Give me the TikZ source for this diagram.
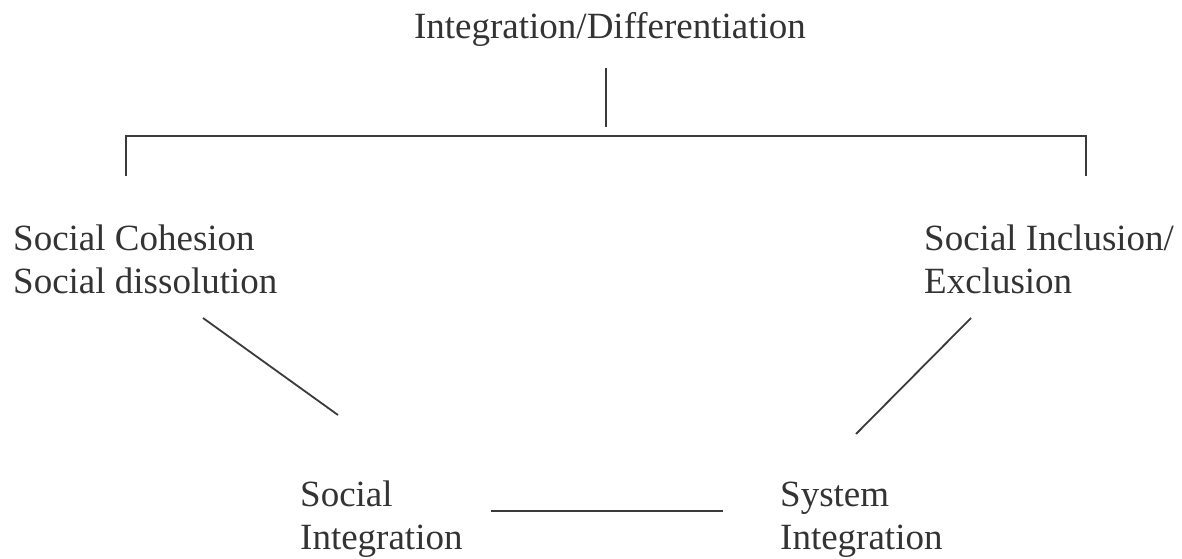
\documentclass[tikz,border=0pt]{standalone}
\usepackage{fontspec}
\setmainfont{Liberation Serif}
\definecolor{ink}{HTML}{333333}
\definecolor{rule}{HTML}{3A3A3A}
\begin{document}
\begin{tikzpicture}[x=1pt,y=-1pt,
  lbl/.style={anchor=base west,inner sep=0pt,align=left,text=ink,
    font=\fontsize{37}{42.5}\selectfont},
  conn/.style={draw=rule,line width=1.8pt}]
\useasboundingbox (0,0) rectangle (1182,558);
\node[lbl,anchor=base] (top) at (610,38) {Integration/Differentiation};
% base anchor of a two-line node = baseline of its last line
\node[lbl] (coh) at (13,293) {Social Cohesion\\Social dissolution};
\node[lbl] (inc) at (924,293) {Social Inclusion/\\Exclusion};
\node[lbl] (soc) at (300,549) {Social\\Integration};
\node[lbl] (sys) at (780,549) {System\\Integration};
% connector end points
\coordinate (t1) at (606,68);
\coordinate (t2) at (606,127);
\coordinate (bl) at (126,176);
\coordinate (br) at (1086,176);
\coordinate (l1) at (203,318);
\coordinate (l2) at (338,415);
\coordinate (r1) at (971,318);
\coordinate (r2) at (856,434);
\coordinate (h1) at (491,511);
\coordinate (h2) at (723,511);
\draw[conn] (t1) -- (t2);
\draw[conn] (bl) |- (1086,136) -- (br);
\draw[conn] (l1) -- (l2);
\draw[conn] (r1) -- (r2);
\draw[conn] (h1) -- (h2);
\end{tikzpicture}
\end{document}
